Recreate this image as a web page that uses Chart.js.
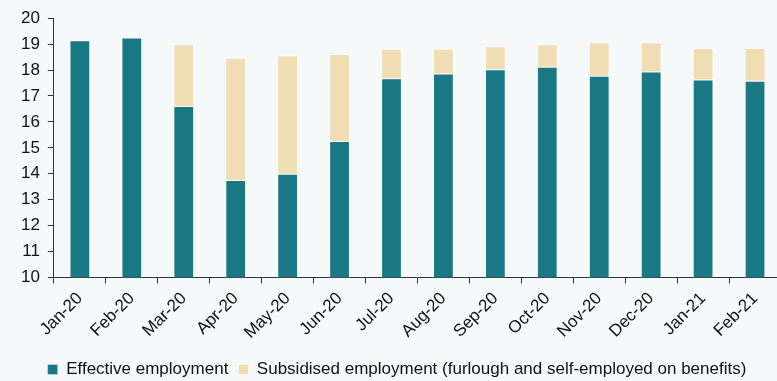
<!DOCTYPE html>
<html>
<head>
<meta charset="utf-8">
<script src="https://cdn.jsdelivr.net/npm/chart.js@4"></script>
<style>
  html, body { margin: 0; padding: 0; background: #f6f9fa; overflow: hidden; }
  #wrap { width: 784px; height: 388px; }
</style>
</head>
<body>
<div id="wrap"><canvas id="empChart"></canvas></div>
<script>
const months = ['Jan-20', 'Feb-20', 'Mar-20', 'Apr-20', 'May-20', 'Jun-20', 'Jul-20',
  'Aug-20', 'Sep-20', 'Oct-20', 'Nov-20', 'Dec-20', 'Jan-21', 'Feb-21'];
// millions of workers
const effective = [19.15, 19.26, 16.61, 13.76, 14.0, 15.26, 17.68, 17.87, 18.03, 18.13, 17.78, 17.94, 17.64, 17.59];
const subsidised = [0, 0, 2.39, 4.71, 4.57, 3.36, 1.14, 0.95, 0.89, 0.87, 1.28, 1.12, 1.21, 1.26];

Chart.defaults.font.family = 'Arial, "Liberation Sans", sans-serif';
Chart.defaults.font.size = 17;
Chart.defaults.color = '#111';

const ctx = document.getElementById('empChart');
const myChart = new Chart(ctx, {
  type: 'bar',
  data: {
    labels: months,
    datasets: [{
      label: 'Effective employment',
      data: effective,
      backgroundColor: '#1a7884',
      borderColor: 'rgba(255,255,255,0.3)',
      borderWidth: 1,
      borderSkipped: 'bottom'
    }, {
      label: 'Subsidised employment (furlough and self-employed on benefits)',
      data: subsidised,
      backgroundColor: '#f0ddb4',
      borderColor: 'rgba(255,255,255,0.4)',
      borderWidth: 1,
      borderSkipped: 'bottom'
    }]
  },
  options: {
    responsive: true,
    maintainAspectRatio: false,
    animation: false,
    datasets: {
      bar: { barPercentage: 0.4, categoryPercentage: 1 }
    },
    layout: { padding: { left: 13, top: -1, right: 3, bottom: 0 } },
    scales: {
      x: {
        stacked: true,
        grid: { offset: true, drawOnChartArea: false, tickLength: 6, color: '#333' },
        border: { color: '#333' },
        ticks: { minRotation: 45, maxRotation: 45, padding: 5 },
        // small extra gap between the month labels and the legend
        afterFit: (scale) => { scale.height += 3; }
      },
      y: {
        stacked: true,
        min: 10,
        max: 20,
        grid: { drawOnChartArea: false, tickLength: 6, color: '#333' },
        border: { color: '#333' },
        ticks: { stepSize: 1, padding: 8 }
      }
    },
    plugins: {
      legend: {
        position: 'bottom',
        labels: { boxWidth: 10, boxHeight: 10, padding: 10 }
      },
      tooltip: { enabled: false }
    }
  }
});
</script>
</body>
</html>
